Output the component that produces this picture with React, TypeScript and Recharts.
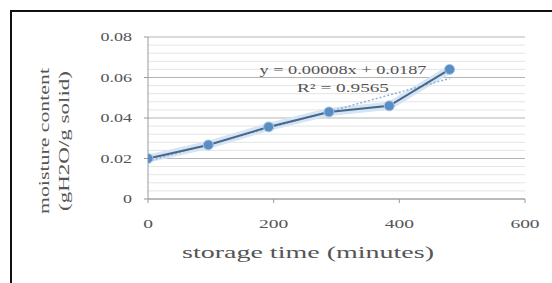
import { LineChart, Line, XAxis, YAxis, CartesianGrid, ReferenceLine } from 'recharts';

// storage time (minutes) and measured moisture content
const times = [0, 96, 192, 288, 384, 480];
const moisture = [0.02, 0.0267, 0.0356, 0.043, 0.046, 0.064];

// linear trend line end points
const trendTimes = [0, 480];
const trendValues = [0.0187, 0.0595];

const xTicks = [0, 200, 400, 600];
const yTicks = [0, 0.02, 0.04, 0.06, 0.08];
const yMinorTicks = [
  0.004, 0.008, 0.012, 0.016, 0.024, 0.028, 0.032, 0.036,
  0.044, 0.048, 0.052, 0.056, 0.064, 0.068, 0.072, 0.076,
];

const equationText = 'y = 0.00008x + 0.0187';
const r2Text = 'R² = 0.9565';

const points = times.map((t, i) => ({ t, v: moisture[i] }));
const trend = trendTimes.map((t, i) => ({ t, v: trendValues[i] }));

const serif = '"Liberation Serif", "Times New Roman", serif';
const textColor = '#555';

const XTick = ({ x, y, payload }: any) => (
  <text
    transform={`translate(${x},${y + 23}) scale(1.5,1)`}
    textAnchor="middle"
    fontSize={13}
    fontFamily={serif}
    fill={textColor}
  >
    {payload.value}
  </text>
);

const YTick = ({ x, y, payload }: any) => (
  <text
    transform={`translate(${x - 10},${y + 4}) scale(1.5,1)`}
    textAnchor="end"
    fontSize={12}
    fontFamily={serif}
    fill={textColor}
  >
    {payload.value === 0 ? '0' : String(payload.value)}
  </text>
);

export default function App() {
  return (
    <div style={{ position: 'absolute', left: 0, top: 0, width: 552, height: 283, background: '#fff' }}>
      <div
        style={{
          position: 'absolute',
          left: 10,
          top: 10,
          right: 0,
          bottom: 0,
          borderLeft: '2px solid #111',
          borderTop: '2px solid #111',
        }}
      />
      <div style={{ position: 'absolute', left: 0, top: 0 }}>
        <LineChart width={552} height={283} margin={{ top: 37, right: 27, bottom: 54, left: 88 }}>
          <CartesianGrid horizontal vertical={false} stroke="#b5b5b5" />
          {yMinorTicks.map((v) => (
            <ReferenceLine key={v} y={v} stroke="#e4e4e4" strokeWidth={1} />
          ))}
          <XAxis
            type="number"
            dataKey="t"
            domain={[0, 600]}
            ticks={xTicks}
            height={30}
            tickSize={4}
            stroke="#9a9a9a"
            tick={<XTick />}
            allowDataOverflow
          />
          <YAxis
            type="number"
            dataKey="v"
            domain={[0, 0.08]}
            ticks={yTicks}
            width={60}
            tickSize={4}
            stroke="#9a9a9a"
            tick={<YTick />}
          />
          <Line
            data={points}
            dataKey="v"
            stroke="#d3e5f6"
            strokeWidth={8}
            dot={false}
            isAnimationActive={false}
          />
          <Line
            data={trend}
            dataKey="v"
            stroke="#8fb3d8"
            strokeWidth={1.5}
            strokeDasharray="2 2"
            dot={false}
            isAnimationActive={false}
          />
          <Line
            data={points}
            dataKey="v"
            stroke="#4b6683"
            strokeWidth={2}
            dot={{ r: 5, fill: '#5a8dc2', stroke: '#a9c8e8', strokeWidth: 1 }}
            isAnimationActive={false}
          />
        </LineChart>
      </div>
      <svg width={552} height={283} style={{ position: 'absolute', left: 0, top: 0, pointerEvents: 'none' }}>
        <g fontFamily={serif} fill={textColor}>
          <text x={343} y={74} textAnchor="middle" fontSize={13} textLength={167} lengthAdjust="spacingAndGlyphs">
            {equationText}
          </text>
          <text x={343} y={92} textAnchor="middle" fontSize={13} textLength={92} lengthAdjust="spacingAndGlyphs">
            {r2Text}
          </text>
          <text x={308} y={258} textAnchor="middle" fontSize={16} textLength={252} lengthAdjust="spacingAndGlyphs">
            storage time (minutes)
          </text>
          <text
            transform="translate(44,141) rotate(-90)"
            textAnchor="middle"
            dominantBaseline="central"
            fontSize={15}
            textLength={146}
            lengthAdjust="spacingAndGlyphs"
          >
            moisture content
          </text>
          <text
            transform="translate(64,141) rotate(-90)"
            textAnchor="middle"
            dominantBaseline="central"
            fontSize={15}
            textLength={140}
            lengthAdjust="spacingAndGlyphs"
          >
            (gH2O/g solid)
          </text>
        </g>
      </svg>
    </div>
  );
}
